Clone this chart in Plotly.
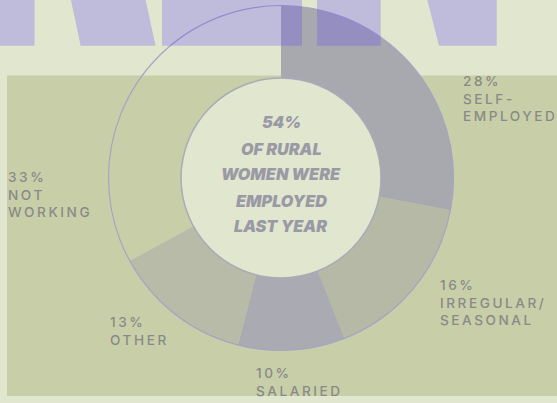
import plotly.graph_objects as go

# Employment status of rural women (share, %)
categories = ["Self-employed", "Irregular/Seasonal", "Salaried", "Other", "Not working"]
shares = [28, 16, 10, 13, 33]
label_lines = [
    ["28%", "SELF-", "EMPLOYED"],
    ["16%", "IRREGULAR/", "SEASONAL"],
    ["10%", "SALARIED"],
    ["13%", "OTHER"],
    ["33%", "NOT", "WORKING"],
]
center_lines = ["54%", "OF RURAL", "WOMEN WERE", "EMPLOYED", "LAST YEAR"]

W, H = 557, 403
BG = "#e1e6cf"
PANEL = "#c8cfa8"
SLICE_COLORS = ["#a8a9ae", "#b5b9a6", "#aaaab3", "#b7bba8", "rgba(0,0,0,0)"]
LABEL_COLOR = "#898a87"
CENTER_COLOR = "#9a9aa5"
RING_EDGE = "#a6a5c2"

# donut geometry in pixels
CX, CY, R_OUT, R_IN = 281, 178, 172.5, 100


def px(x):
    return x / W


def py(y):
    return 1 - y / H


fig = go.Figure()
fig.add_trace(go.Pie(
    labels=categories,
    values=shares,
    sort=False,
    direction="clockwise",
    rotation=0,
    hole=R_IN / R_OUT,
    marker=dict(colors=SLICE_COLORS, line=dict(width=0)),
    textinfo="none",
    hoverinfo="skip",
    showlegend=False,
    domain=dict(x=[px(CX - R_OUT), px(CX + R_OUT)],
                y=[py(CY + R_OUT), py(CY - R_OUT)]),
))

shapes = []
# green panel behind the donut
shapes.append(dict(type="rect", xref="paper", yref="paper", layer="below",
                   x0=px(7), x1=px(W), y0=py(396), y1=py(75.5),
                   fillcolor=PANEL, line=dict(width=0)))
# outer outline of the ring
shapes.append(dict(type="circle", xref="paper", yref="paper", layer="above",
                   x0=px(CX - R_OUT), x1=px(CX + R_OUT),
                   y0=py(CY + R_OUT), y1=py(CY - R_OUT),
                   fillcolor="rgba(0,0,0,0)", line=dict(color=RING_EDGE, width=1.2)))
# filled centre disc
shapes.append(dict(type="circle", xref="paper", yref="paper", layer="above",
                   x0=px(CX - R_IN), x1=px(CX + R_IN),
                   y0=py(CY + R_IN), y1=py(CY - R_IN),
                   fillcolor=BG, line=dict(color="#aaaab8", width=1.5)))

# headline letter fragments across the top edge
HEAD_FILL = "rgba(89,62,251,0.25)"
head_polys = [
    [(0, 0), (34.5, 0), (34.5, 45.7), (0, 45.7)],
    [(71, 0), (145.6, 0), (155.6, 45.7), (80.6, 45.7)],
    [(162, 0), (302, 0), (302, 45.7), (162, 45.7)],
    [(317, 0), (380.7, 0), (380.7, 45.7), (317, 45.7)],
    [(427.3, 0), (496.7, 0), (496.7, 45.7), (439, 45.7)],
]
for poly in head_polys:
    path = "M " + " L ".join(f"{px(x):.5f},{py(y):.5f}" for x, y in poly) + " Z"
    shapes.append(dict(type="path", xref="paper", yref="paper", layer="above",
                       path=path, fillcolor=HEAD_FILL, line=dict(width=0)))

annotations = []
# slice labels: (left x, top y) in pixels
label_pos = [(461.5, 76), (439, 280), (255, 368.3), (109, 317.3), (7, 172.3)]
LABEL_FS = 13.6
for lines, (lx, ly) in zip(label_lines, label_pos):
    annotations.append(dict(
        text="<br>".join(lines), xref="paper", yref="paper",
        x=px(lx), y=py(ly - 4.3), xanchor="left", yanchor="top",
        align="left", showarrow=False, borderpad=0,
        font=dict(family="Inter", size=LABEL_FS, color=LABEL_COLOR, weight=500),
    ))

center_mid = [121.5, 148.8, 173.8, 200.8, 226.2]
for line, cy in zip(center_lines, center_mid):
    annotations.append(dict(
        text=line, xref="paper", yref="paper",
        x=px(CX), y=py(cy), xanchor="center", yanchor="middle",
        showarrow=False, borderpad=0,
        font=dict(family="Inter", size=16.2, color=CENTER_COLOR,
                  weight=900, style="italic"),
    ))

fig.update_layout(
    width=W, height=H,
    margin=dict(l=0, r=0, t=0, b=0),
    paper_bgcolor=BG, plot_bgcolor=BG,
    shapes=shapes, annotations=annotations,
    xaxis=dict(visible=False), yaxis=dict(visible=False),
)

# wide tracking on the slice labels
n_labels = len(label_lines)
sel = ",".join(f"g.annotation[data-index=\"{i}\"] text" for i in range(n_labels))
post = ("var s=document.createElement('style');"
        f"s.textContent='{sel}{{letter-spacing:2.55px}}';"
        "document.head.appendChild(s);")

fig.write_html("out.html", post_script=post)
